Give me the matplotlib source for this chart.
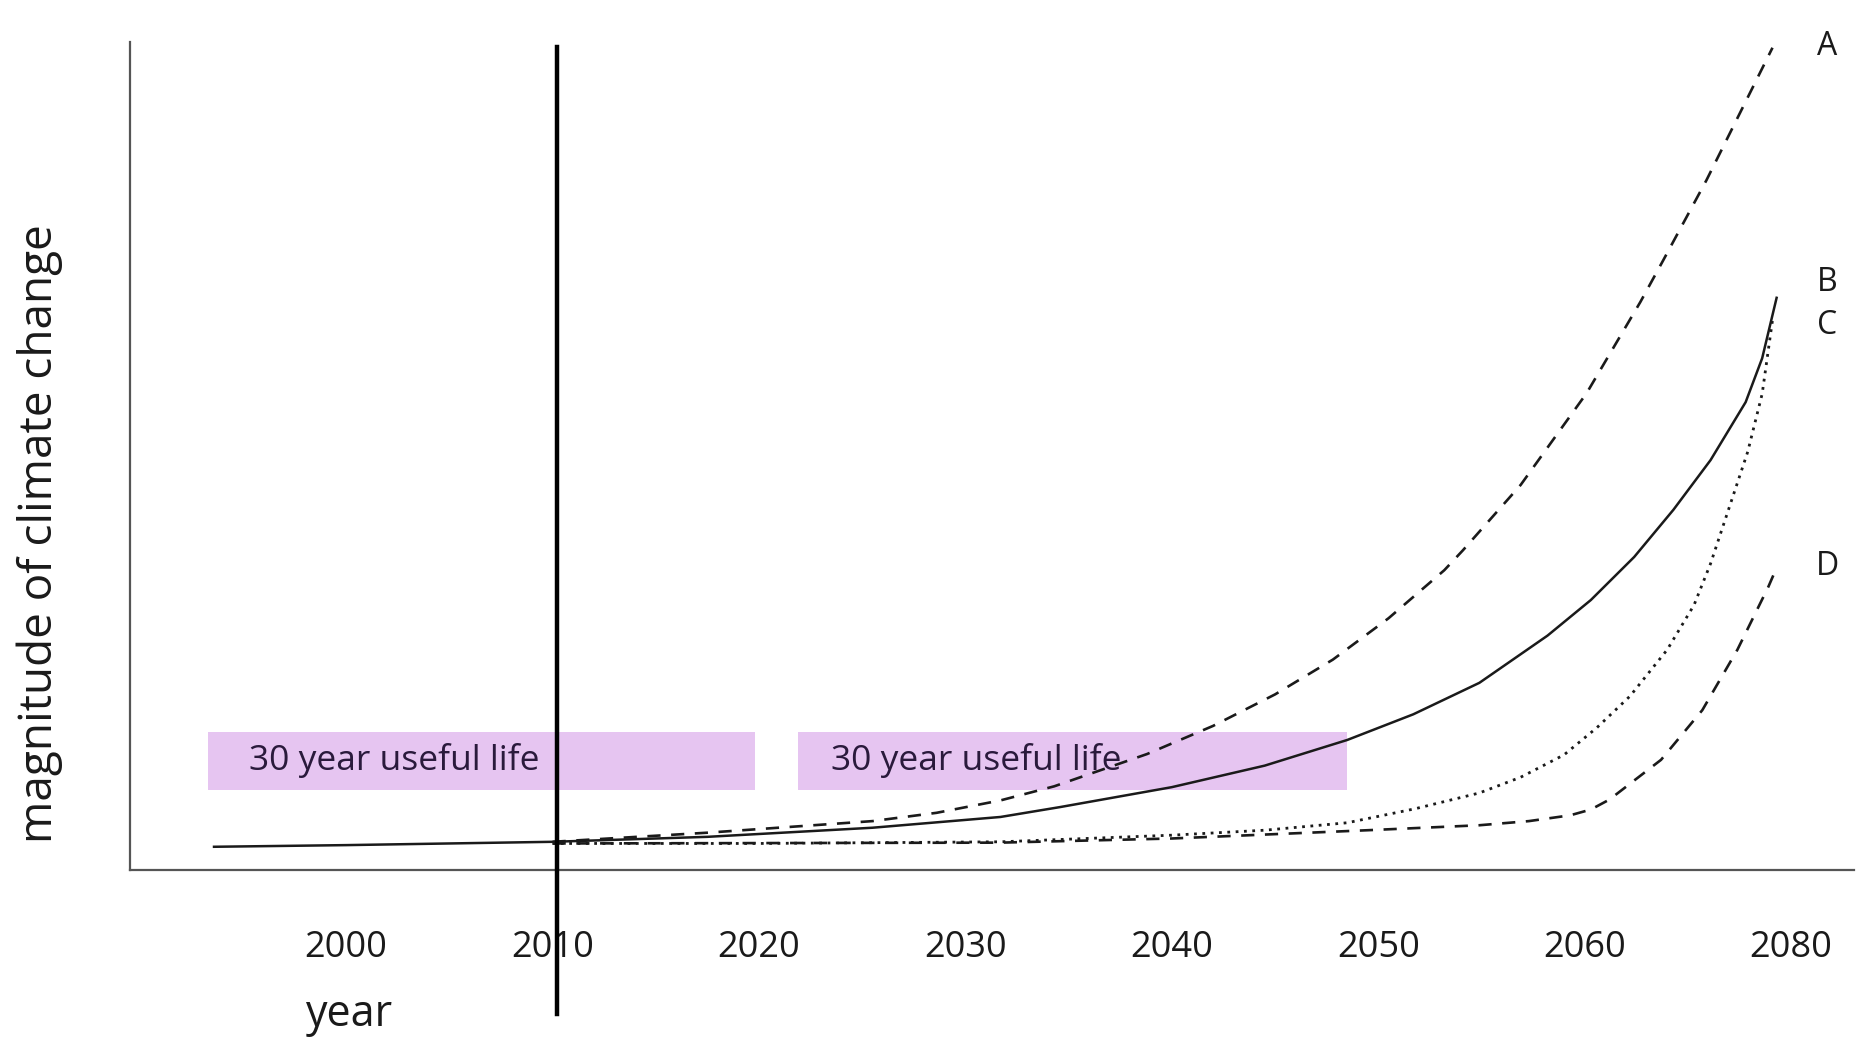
import matplotlib
matplotlib.use("Agg")
import matplotlib.pyplot as plt
from matplotlib.patches import Rectangle

plt.rcParams["font.family"] = ["Open Sans", "DejaVu Sans"]

# scenario curves (x = year position, y = relative magnitude, 0..100)
years_a = [2010, 2017.5, 2025.5, 2028.6, 2031.7, 2034.3, 2038.8, 2042.0, 2045.0,
           2047.8, 2050.5, 2053.2, 2054.1, 2056.9, 2060.1, 2062.7, 2063.8, 2065.9,
           2069.1]
mag_a = [3.4, 4.5, 5.9, 6.9, 8.4, 10.1, 14.0, 17.4, 21.2,
         25.4, 30.4, 36.2, 38.6, 46.5, 57.6, 68.6, 73.6, 83.3,
         99.3]

years_b = [1993.6, 2000, 2010, 2017.5, 2025.5, 2031.7, 2034.6, 2040, 2044.5,
           2048.5, 2051.7, 2054.9, 2058.2, 2060.3, 2062.4, 2064.3, 2066.1, 2067.8,
           2068.6, 2069.3]
mag_b = [2.8, 3.0, 3.4, 4.0, 5.1, 6.4, 7.6, 10.0, 12.6,
         15.7, 18.8, 22.6, 28.3, 32.6, 37.8, 43.5, 49.5, 56.5,
         61.8, 69.1]

years_c = [2010, 2020, 2031.7, 2040, 2044.5, 2048.5, 2051.8, 2054.9, 2056.9,
           2059.0, 2060.6, 2062.2, 2064.0, 2065.3, 2066.1, 2067.9, 2068.6, 2069.1]
mag_c = [3.2, 3.2, 3.4, 4.2, 4.8, 5.7, 7.4, 9.3, 11.2,
         13.9, 17.2, 21.0, 26.6, 32.0, 37.0, 50.5, 57.5, 66.4]

years_d = [2010, 2031.7, 2040, 2049.5, 2054.9, 2057.3, 2059.3, 2060.3, 2061.2,
           2063.7, 2065.7, 2067.4, 2068.9, 2069.3]
mag_d = [3.2, 3.3, 3.8, 4.8, 5.4, 5.9, 6.6, 7.3, 8.5,
         13.3, 19.3, 26.6, 34.2, 36.5]

curve_labels = ["A", "B", "C", "D"]
label_mags = [99.4, 71.0, 65.7, 36.7]

tick_pos = [2000, 2010, 2020, 2030, 2040, 2050, 2060, 2070]
tick_labels = ["2000", "2010", "2020", "2030", "2040", "2050", "2060", "2080"]

# "30 year useful life" bands: (start, end)
life_spans = [(1993.3, 2019.8), (2021.9, 2048.5)]
life_text_x = [1995.3, 2023.5]
now_year = 2010.2

fig = plt.figure(figsize=(18.6, 10.46), dpi=100)
ax = fig.add_axes([0.0699, 0.1683, 0.927, 0.7916])
ax.set_xlim(1989.53, 2073.06)
ax.set_ylim(0, 100)

for (x0, x1), tx in zip(life_spans, life_text_x):
    ax.add_patch(Rectangle((x0, 9.6), x1 - x0, 7.1, facecolor="#e6c5f1",
                           edgecolor="none", zorder=1))
    ax.text(tx, 13.2, "30 year useful life", fontsize=25.5, color="#2a1a3c",
            va="center", ha="left", zorder=2)

ax.plot(years_b, mag_b, color="#1a1a1a", lw=1.8, zorder=3)
ax.plot(years_a, mag_a, color="#1a1a1a", lw=1.9, dashes=(5, 4), zorder=3)
ax.plot(years_c, mag_c, color="#1a1a1a", lw=2.0, linestyle=(0, (1, 2)), zorder=3)
ax.plot(years_d, mag_d, color="#1a1a1a", lw=1.9, dashes=(5, 4), zorder=3)

ax.plot([now_year, now_year], [99.4, -17.4], color="black", lw=3.2,
        clip_on=False, zorder=4)

for lab, m in zip(curve_labels, label_mags):
    ax.text(2071.75, m, lab, fontsize=23, color="#1a1a1a", ha="center",
            va="center")

for side in ["top", "right"]:
    ax.spines[side].set_visible(False)
for side in ["left", "bottom"]:
    ax.spines[side].set_color("#555555")
    ax.spines[side].set_linewidth(1.6)

ax.set_yticks([])
ax.set_xticks(tick_pos, tick_labels)
ax.tick_params(axis="x", length=0, pad=43, labelsize=26, labelcolor="#1a1a1a")

fig.text(350 / 1860, 1 - 1015 / 1046, "year", fontsize=31, ha="center",
         va="center", color="#1a1a1a")
fig.text(40 / 1860, 1 - 534 / 1046, "magnitude of climate change", fontsize=33,
         rotation=90, ha="center", va="center", color="#1a1a1a")

fig.savefig("out.png", dpi=100)
